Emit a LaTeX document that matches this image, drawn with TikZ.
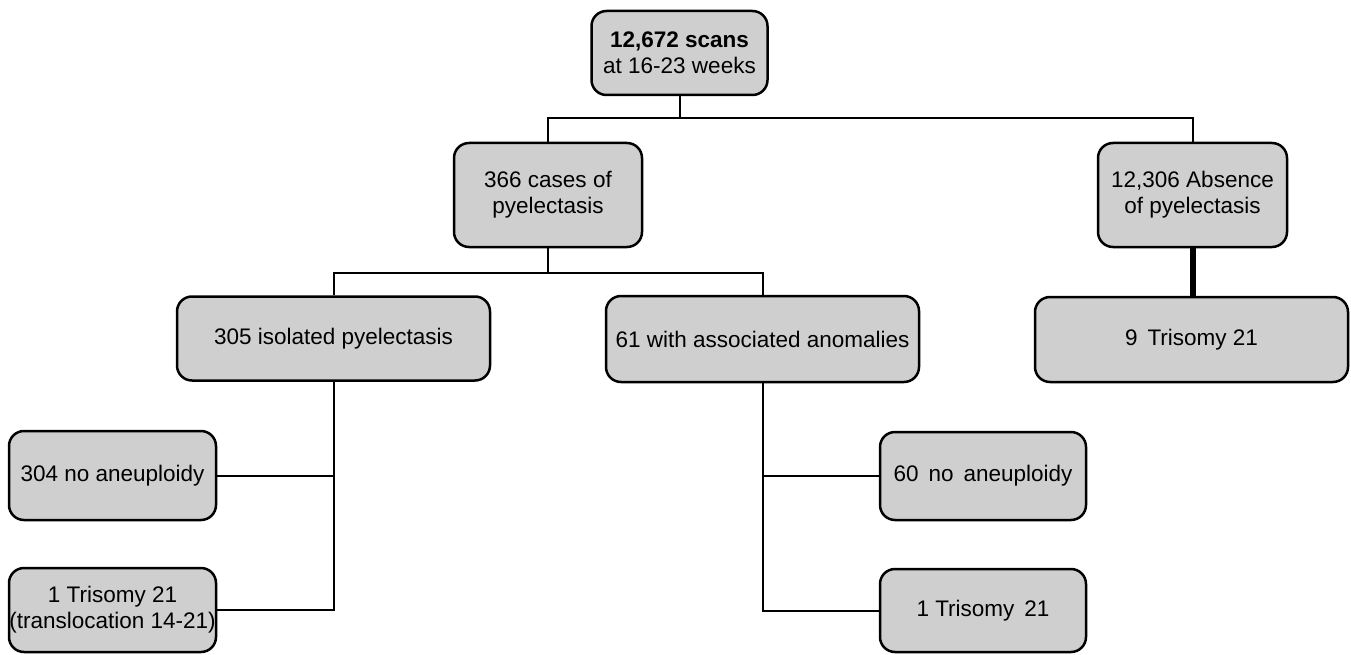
\documentclass[tikz,border=0pt]{standalone}
\usepackage{fontspec}
\setmainfont{Liberation Sans}
\begin{document}
\begin{tikzpicture}[x=1pt,y=-1pt,
  box/.style={draw=black, line width=2.5pt, fill=boxgray, rounded corners=15pt,
    align=center, inner sep=0pt, font=\fontsize{22.5}{26}\selectfont},
  conn/.style={draw=black, line width=2pt}]
\definecolor{boxgray}{HTML}{CFCFCF}
\useasboundingbox (0,0) rectangle (1351,655);
\node[box, minimum width=176pt, minimum height=84pt] (top) at (679.5,53) {\textbf{12,672 scans}\\at 16-23 weeks};
\node[box, minimum width=188pt, minimum height=104pt] (n366) at (548,195) {366 cases of\\pyelectasis};
\node[box, minimum width=189pt, minimum height=104pt] (n12306) at (1192.5,195) {12,306 Absence\\of pyelectasis};
\node[box, minimum width=313pt, minimum height=84pt] (n305) at (333.5,338.5) {305 isolated pyelectasis};
\node[box, minimum width=313pt, minimum height=86pt] (n61) at (762.5,339) {61 with associated anomalies};
\node[box, minimum width=313pt, minimum height=85pt] (n9) at (1191.5,339.5) {9\, Trisomy 21};
\node[box, minimum width=207pt, minimum height=89pt] (n304) at (112.5,475.5) {304 no aneuploidy};
\node[box, minimum width=207pt, minimum height=84pt] (nT1) at (112.5,610) {1 Trisomy 21\\(translocation 14-21)};
\node[box, minimum width=206pt, minimum height=88pt] (n60) at (983,476) {60\, no\, aneuploidy};
\node[box, minimum width=206pt, minimum height=83pt] (nT2) at (983,610.5) {1 Trisomy\, 21};
\coordinate (j1) at (679.5,118);
\coordinate (j2) at (548,273);
\draw[conn] (top.south) -- (j1);
\draw[conn] (n366.north) |- (j1) -| (n12306.north);
\draw[conn] (n366.south) -- (j2);
\draw[conn] (n305.north) |- (j2) -| (n61.north);
\draw[line width=6pt] (n12306.south) -- (n12306.south |- n9.north);
\draw[conn] (n305.south) |- (nT1.east);
\draw[conn] (n304.east) -- (n304.east -| n305.south);
\draw[conn] (n61.south) |- (nT2.west);
\draw[conn] (n60.west) -- (n60.west -| n61.south);
\end{tikzpicture}
\end{document}
